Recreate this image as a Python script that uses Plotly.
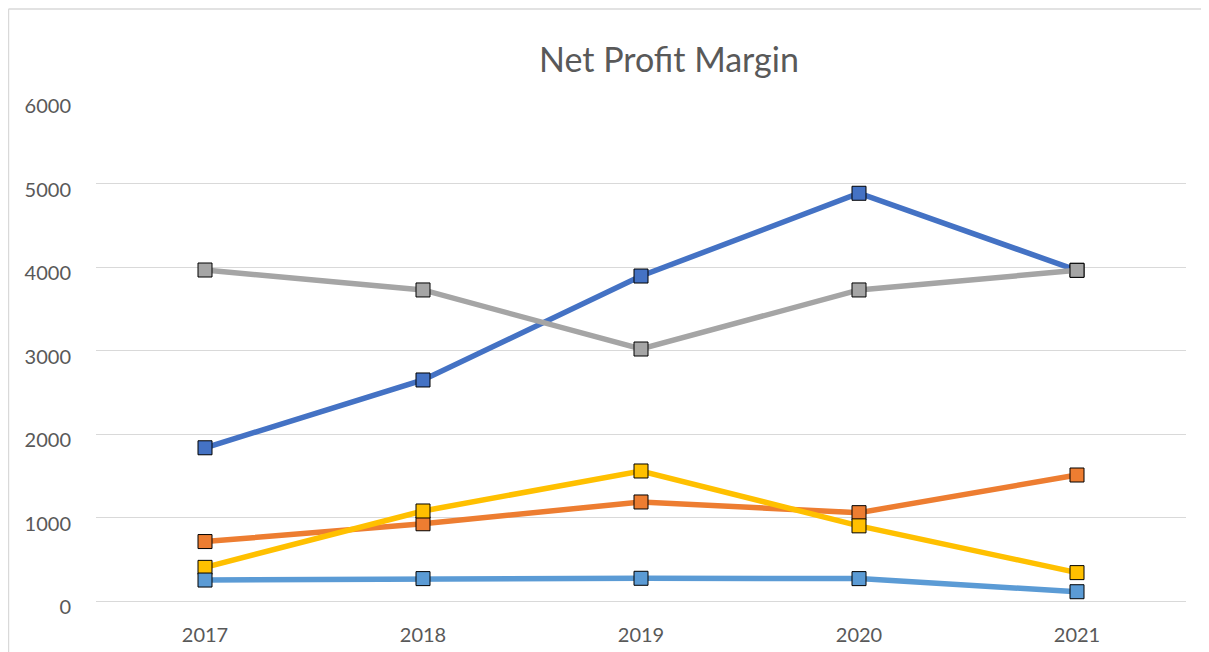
import plotly.graph_objects as go

years = ["2017", "2018", "2019", "2020", "2021"]
series_a = [1835, 2647, 3892, 4883, 3960]
series_b = [712, 925, 1186, 1058, 1509]
series_c = [3964, 3725, 3018, 3725, 3960]
series_d = [403, 1078, 1557, 900, 340]
series_e = [251, 268, 272, 268, 111]

names = ["Series 1", "Series 2", "Series 3", "Series 4", "Series 5"]
colors = ["#4472C4", "#ED7D31", "#A5A5A5", "#FFC000", "#5B9BD5"]
data = [series_a, series_b, series_c, series_d, series_e]

fig = go.Figure()
for name, col, vals in zip(names, colors, data):
    fig.add_trace(go.Scatter(
        x=years, y=vals, name=name, mode="lines+markers",
        line=dict(color=col, width=5.5),
        marker=dict(symbol="square", size=14, color=col,
                    line=dict(color="#000000", width=1)),
    ))

border = dict(color="#D9D9D9", width=1.5)
fig.update_layout(
    width=1209, height=652,
    paper_bgcolor="white", plot_bgcolor="white",
    margin=dict(l=88, r=31, t=92, b=59, autoexpand=False),
    showlegend=False,
    font=dict(family="Lato, Carlito, sans-serif", color="#595959", size=20),
    title=dict(text="Net Profit Margin", x=0.5467, xanchor="center", y=0.920,
               yanchor="middle", font=dict(size=34, color="#595959")),
    shapes=[
        dict(type="line", xref="paper", yref="paper",
             x0=-0.0803, x1=1.2, y0=1.1816, y1=1.1816, line=border, layer="below"),
        dict(type="line", xref="paper", yref="paper",
             x0=-0.0803, x1=-0.0803, y0=-0.3, y1=1.1816, line=border, layer="below"),
    ],
)
fig.update_xaxes(type="category", range=[-0.5, 4.5], showgrid=False,
                 showline=False, ticks="", ticklabelstandoff=20,
                 automargin=False,
                 tickfont=dict(size=20, color="#595959"))
fig.update_yaxes(range=[0, 6000], dtick=1000, showgrid=True,
                 gridcolor="#D9D9D9", gridwidth=1, zeroline=True,
                 zerolinecolor="#D9D9D9", zerolinewidth=1,
                 showline=False, ticks="", ticklabelstandoff=24,
                 ticklabelshift=6, automargin=False,
                 tickfont=dict(size=20, color="#595959"))

fig.write_html(
    "out.html",
    post_script="document.documentElement.style.overflow='hidden';"
                "document.body.style.overflow='hidden';",
)
